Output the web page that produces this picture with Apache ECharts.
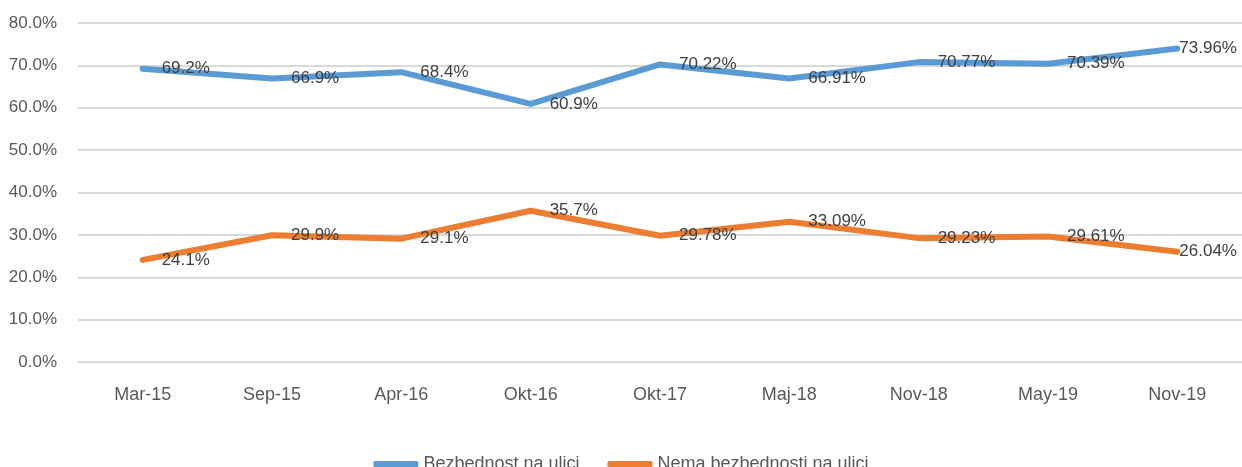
<!DOCTYPE html>
<html>
<head>
<meta charset="utf-8">
<title>Bezbednost na ulici</title>
<script src="https://cdn.jsdelivr.net/npm/echarts@6/dist/echarts.min.js"></script>
<style>
	html,body{margin:0;padding:0;background:#fff;}
	#chart{width:1242px;height:467px;}
</style>
</head>
<body>
<div id="chart"></div>
<script>
// kategorije (x osa)
var categories = ['Mar-15','Sep-15','Apr-16','Okt-16','Okt-17','Maj-18','Nov-18','May-19','Nov-19'];
// nazivi serija
var seriesNames = ['Bezbednost na ulici','Nema bezbednosti na ulici'];
// vrednosti u %
var safeValues = [69.2, 66.9, 68.4, 60.9, 70.22, 66.91, 70.77, 70.39, 73.96];
var unsafeValues = [24.1, 29.9, 29.1, 35.7, 29.78, 33.09, 29.23, 29.61, 26.04];
// y osa
var yMin = 0, yMax = 80, yStep = 10;

var fontName = '"Liberation Sans", Arial, sans-serif';

function lineSeries(name, values, color){
	// poslednja labela se pomera ulevo da ne izadje van slike
	var data = values.map(function(v, i){
		if (i == values.length - 1) return {value: v, label: {distance: 2}};
		return v;
	});
	return {
		name: name,
		type: 'line',
		data: data,
		symbol: 'circle',
		symbolSize: 0,
		showSymbol: true,
		smooth: false,
		lineStyle: {
			color: color,
			width: 6,
			cap: 'round',
			join: 'round'
		},
		itemStyle: {color: color},
		label: {
			show: true,
			position: 'right',
			distance: 19,
			color: '#404040',
			fontSize: 17,
			fontFamily: fontName,
			formatter: function(p){
				return p.value + '%';
			}
		},
		emphasis: {disabled: true}
	};
}

var myChart = echarts.init(document.getElementById('chart'));
var option = {
	animation: false,
	backgroundColor: '#fff',
	grid: {
		left: 78,
		top: 23,
		width: 1170,
		height: 339,
		containLabel: false
	},
	legend: {
		top: 450,
		left: 'center',
		itemWidth: 45,
		itemHeight: 6,
		itemGap: 28,
		icon: 'roundRect',
		textStyle: {
			color: '#595959',
			fontSize: 18,
			fontFamily: fontName
		},
		data: seriesNames
	},
	xAxis: {
		type: 'category',
		data: categories,
		boundaryGap: true,
		axisLine: {lineStyle: {color: '#d9d9d9', width: 2}},
		axisTick: {show: false},
		axisLabel: {
			color: '#595959',
			fontSize: 18,
			fontFamily: fontName,
			margin: 24
		}
	},
	yAxis: {
		type: 'value',
		min: yMin,
		max: yMax,
		interval: yStep,
		axisLine: {show: false},
		axisTick: {show: false},
		splitLine: {lineStyle: {color: '#d9d9d9', width: 2}},
		axisLabel: {
			color: '#595959',
			fontSize: 17,
			fontFamily: fontName,
			margin: 21,
			formatter: function(v){
				return v.toFixed(1) + '%';
			}
		}
	},
	series: [
		lineSeries(seriesNames[0], safeValues, '#5b9bd5'),
		lineSeries(seriesNames[1], unsafeValues, '#ed7d31')
	]
};
myChart.setOption(option, true);
</script>
</body>
</html>
